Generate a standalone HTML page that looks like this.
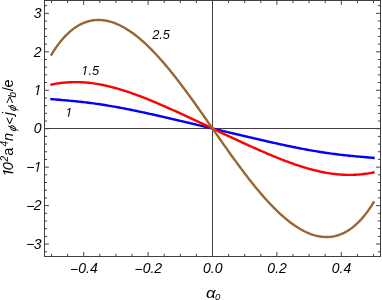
<!DOCTYPE html>
<html><head><meta charset="utf-8"><style>
html,body{margin:0;padding:0;background:#fff;}
svg{display:block;will-change:transform}
text{font-family:"Liberation Sans",sans-serif;font-size:14px;font-style:italic;fill:#000}
.cl{font-size:12.8px}
</style></head><body>
<svg width="382" height="300" viewBox="0 0 382 300">
<rect width="382" height="300" fill="#fff"/>
<line x1="44.5" y1="128.5" x2="380.5" y2="128.5" stroke="#404040" stroke-width="1"/>
<line x1="212.5" y1="0.5" x2="212.5" y2="256.5" stroke="#404040" stroke-width="1"/>
<path d="M51.50,99.13 L53.11,99.27 L54.72,99.41 L56.33,99.55 L57.94,99.69 L59.55,99.82 L61.16,99.96 L62.77,100.10 L64.38,100.24 L65.99,100.38 L67.60,100.53 L69.21,100.67 L70.82,100.82 L72.43,100.98 L74.04,101.13 L75.65,101.29 L77.26,101.46 L78.87,101.63 L80.48,101.80 L82.09,101.98 L83.70,102.17 L85.31,102.36 L86.92,102.55 L88.53,102.75 L90.14,102.95 L91.75,103.16 L93.36,103.38 L94.97,103.60 L96.58,103.83 L98.19,104.06 L99.80,104.29 L101.41,104.54 L103.02,104.78 L104.63,105.04 L106.24,105.29 L107.85,105.56 L109.46,105.82 L111.07,106.10 L112.68,106.37 L114.29,106.66 L115.90,106.94 L117.51,107.24 L119.12,107.53 L120.73,107.83 L122.34,108.14 L123.95,108.44 L125.56,108.76 L127.17,109.07 L128.78,109.39 L130.39,109.72 L132.00,110.04 L133.61,110.37 L135.22,110.71 L136.83,111.04 L138.44,111.38 L140.05,111.72 L141.66,112.07 L143.27,112.41 L144.88,112.76 L146.49,113.12 L148.10,113.47 L149.71,113.83 L151.32,114.18 L152.93,114.54 L154.54,114.91 L156.15,115.27 L157.76,115.63 L159.37,116.00 L160.98,116.37 L162.59,116.74 L164.20,117.11 L165.81,117.48 L167.42,117.85 L169.03,118.23 L170.64,118.60 L172.25,118.98 L173.86,119.35 L175.47,119.73 L177.08,120.11 L178.69,120.48 L180.30,120.86 L181.91,121.24 L183.52,121.62 L185.13,122.00 L186.74,122.38 L188.35,122.76 L189.96,123.14 L191.57,123.53 L193.18,123.91 L194.79,124.29 L196.40,124.67 L198.01,125.05 L199.62,125.44 L201.23,125.82 L202.84,126.20 L204.45,126.59 L206.06,126.97 L207.67,127.35 L209.28,127.73 L210.89,128.12 L212.50,128.50 L214.11,128.88 L215.72,129.27 L217.33,129.65 L218.94,130.03 L220.55,130.41 L222.16,130.80 L223.77,131.18 L225.38,131.56 L226.99,131.95 L228.60,132.33 L230.21,132.71 L231.82,133.09 L233.43,133.47 L235.04,133.86 L236.65,134.24 L238.26,134.62 L239.87,135.00 L241.48,135.38 L243.09,135.76 L244.70,136.14 L246.31,136.52 L247.92,136.89 L249.53,137.27 L251.14,137.65 L252.75,138.02 L254.36,138.40 L255.97,138.77 L257.58,139.15 L259.19,139.52 L260.80,139.89 L262.41,140.26 L264.02,140.63 L265.63,141.00 L267.24,141.37 L268.85,141.73 L270.46,142.09 L272.07,142.46 L273.68,142.82 L275.29,143.17 L276.90,143.53 L278.51,143.88 L280.12,144.24 L281.73,144.59 L283.34,144.93 L284.95,145.28 L286.56,145.62 L288.17,145.96 L289.78,146.29 L291.39,146.63 L293.00,146.96 L294.61,147.28 L296.22,147.61 L297.83,147.93 L299.44,148.24 L301.05,148.56 L302.66,148.86 L304.27,149.17 L305.88,149.47 L307.49,149.76 L309.10,150.06 L310.71,150.34 L312.32,150.63 L313.93,150.90 L315.54,151.18 L317.15,151.44 L318.76,151.71 L320.37,151.96 L321.98,152.22 L323.59,152.46 L325.20,152.71 L326.81,152.94 L328.42,153.17 L330.03,153.40 L331.64,153.62 L333.25,153.84 L334.86,154.05 L336.47,154.25 L338.08,154.45 L339.69,154.64 L341.30,154.83 L342.91,155.02 L344.52,155.20 L346.13,155.37 L347.74,155.54 L349.35,155.71 L350.96,155.87 L352.57,156.02 L354.18,156.18 L355.79,156.33 L357.40,156.47 L359.01,156.62 L360.62,156.76 L362.23,156.90 L363.84,157.04 L365.45,157.18 L367.06,157.31 L368.67,157.45 L370.28,157.59 L371.89,157.73 L373.50,157.87" fill="none" stroke="#0000ff" stroke-width="2.4" stroke-linejoin="round" stroke-linecap="square"/>
<path d="M51.50,84.56 L53.11,84.24 L54.72,83.94 L56.33,83.67 L57.94,83.42 L59.55,83.19 L61.16,82.98 L62.77,82.79 L64.38,82.63 L65.99,82.49 L67.60,82.37 L69.21,82.27 L70.82,82.19 L72.43,82.14 L74.04,82.11 L75.65,82.10 L77.26,82.12 L78.87,82.15 L80.48,82.20 L82.09,82.28 L83.70,82.38 L85.31,82.49 L86.92,82.63 L88.53,82.79 L90.14,82.97 L91.75,83.16 L93.36,83.38 L94.97,83.61 L96.58,83.86 L98.19,84.13 L99.80,84.42 L101.41,84.72 L103.02,85.04 L104.63,85.38 L106.24,85.74 L107.85,86.11 L109.46,86.49 L111.07,86.89 L112.68,87.30 L114.29,87.73 L115.90,88.18 L117.51,88.63 L119.12,89.10 L120.73,89.58 L122.34,90.08 L123.95,90.58 L125.56,91.10 L127.17,91.63 L128.78,92.17 L130.39,92.72 L132.00,93.28 L133.61,93.85 L135.22,94.44 L136.83,95.03 L138.44,95.62 L140.05,96.23 L141.66,96.85 L143.27,97.47 L144.88,98.10 L146.49,98.74 L148.10,99.39 L149.71,100.04 L151.32,100.70 L152.93,101.37 L154.54,102.04 L156.15,102.72 L157.76,103.40 L159.37,104.09 L160.98,104.78 L162.59,105.48 L164.20,106.18 L165.81,106.89 L167.42,107.60 L169.03,108.31 L170.64,109.03 L172.25,109.75 L173.86,110.48 L175.47,111.21 L177.08,111.94 L178.69,112.68 L180.30,113.41 L181.91,114.15 L183.52,114.90 L185.13,115.64 L186.74,116.39 L188.35,117.13 L189.96,117.88 L191.57,118.64 L193.18,119.39 L194.79,120.14 L196.40,120.90 L198.01,121.66 L199.62,122.41 L201.23,123.17 L202.84,123.93 L204.45,124.69 L206.06,125.45 L207.67,126.21 L209.28,126.98 L210.89,127.74 L212.50,128.50 L214.11,129.26 L215.72,130.02 L217.33,130.79 L218.94,131.55 L220.55,132.31 L222.16,133.07 L223.77,133.83 L225.38,134.59 L226.99,135.34 L228.60,136.10 L230.21,136.86 L231.82,137.61 L233.43,138.36 L235.04,139.12 L236.65,139.87 L238.26,140.61 L239.87,141.36 L241.48,142.10 L243.09,142.85 L244.70,143.59 L246.31,144.32 L247.92,145.06 L249.53,145.79 L251.14,146.52 L252.75,147.25 L254.36,147.97 L255.97,148.69 L257.58,149.40 L259.19,150.11 L260.80,150.82 L262.41,151.52 L264.02,152.22 L265.63,152.91 L267.24,153.60 L268.85,154.28 L270.46,154.96 L272.07,155.63 L273.68,156.30 L275.29,156.96 L276.90,157.61 L278.51,158.26 L280.12,158.90 L281.73,159.53 L283.34,160.15 L284.95,160.77 L286.56,161.38 L288.17,161.97 L289.78,162.56 L291.39,163.15 L293.00,163.72 L294.61,164.28 L296.22,164.83 L297.83,165.37 L299.44,165.90 L301.05,166.42 L302.66,166.92 L304.27,167.42 L305.88,167.90 L307.49,168.37 L309.10,168.82 L310.71,169.27 L312.32,169.70 L313.93,170.11 L315.54,170.51 L317.15,170.89 L318.76,171.26 L320.37,171.62 L321.98,171.96 L323.59,172.28 L325.20,172.58 L326.81,172.87 L328.42,173.14 L330.03,173.39 L331.64,173.62 L333.25,173.84 L334.86,174.03 L336.47,174.21 L338.08,174.37 L339.69,174.51 L341.30,174.62 L342.91,174.72 L344.52,174.80 L346.13,174.85 L347.74,174.88 L349.35,174.90 L350.96,174.89 L352.57,174.86 L354.18,174.81 L355.79,174.73 L357.40,174.63 L359.01,174.51 L360.62,174.37 L362.23,174.21 L363.84,174.02 L365.45,173.81 L367.06,173.58 L368.67,173.33 L370.28,173.06 L371.89,172.76 L373.50,172.44" fill="none" stroke="#ff0000" stroke-width="2.4" stroke-linejoin="round" stroke-linecap="square"/>
<path d="M51.50,54.54 L53.11,51.95 L54.72,49.48 L56.33,47.13 L57.94,44.89 L59.55,42.77 L61.16,40.76 L62.77,38.86 L64.38,37.06 L65.99,35.37 L67.60,33.78 L69.21,32.28 L70.82,30.88 L72.43,29.58 L74.04,28.37 L75.65,27.25 L77.26,26.21 L78.87,25.26 L80.48,24.40 L82.09,23.62 L83.70,22.91 L85.31,22.29 L86.92,21.75 L88.53,21.28 L90.14,20.88 L91.75,20.56 L93.36,20.31 L94.97,20.13 L96.58,20.01 L98.19,19.97 L99.80,19.99 L101.41,20.08 L103.02,20.23 L104.63,20.44 L106.24,20.72 L107.85,21.05 L109.46,21.45 L111.07,21.90 L112.68,22.41 L114.29,22.98 L115.90,23.60 L117.51,24.28 L119.12,25.01 L120.73,25.79 L122.34,26.62 L123.95,27.51 L125.56,28.44 L127.17,29.42 L128.78,30.46 L130.39,31.53 L132.00,32.66 L133.61,33.83 L135.22,35.04 L136.83,36.30 L138.44,37.60 L140.05,38.94 L141.66,40.32 L143.27,41.75 L144.88,43.21 L146.49,44.71 L148.10,46.25 L149.71,47.82 L151.32,49.43 L152.93,51.08 L154.54,52.76 L156.15,54.47 L157.76,56.22 L159.37,58.00 L160.98,59.80 L162.59,61.64 L164.20,63.51 L165.81,65.40 L167.42,67.33 L169.03,69.28 L170.64,71.25 L172.25,73.25 L173.86,75.27 L175.47,77.32 L177.08,79.38 L178.69,81.47 L180.30,83.58 L181.91,85.71 L183.52,87.85 L185.13,90.02 L186.74,92.19 L188.35,94.39 L189.96,96.60 L191.57,98.82 L193.18,101.05 L194.79,103.30 L196.40,105.56 L198.01,107.82 L199.62,110.10 L201.23,112.38 L202.84,114.67 L204.45,116.97 L206.06,119.27 L207.67,121.57 L209.28,123.88 L210.89,126.19 L212.50,128.50 L214.11,130.81 L215.72,133.12 L217.33,135.43 L218.94,137.73 L220.55,140.03 L222.16,142.33 L223.77,144.62 L225.38,146.90 L226.99,149.18 L228.60,151.44 L230.21,153.70 L231.82,155.95 L233.43,158.18 L235.04,160.40 L236.65,162.61 L238.26,164.81 L239.87,166.98 L241.48,169.15 L243.09,171.29 L244.70,173.42 L246.31,175.53 L247.92,177.62 L249.53,179.68 L251.14,181.73 L252.75,183.75 L254.36,185.75 L255.97,187.72 L257.58,189.67 L259.19,191.60 L260.80,193.49 L262.41,195.36 L264.02,197.20 L265.63,199.00 L267.24,200.78 L268.85,202.53 L270.46,204.24 L272.07,205.92 L273.68,207.57 L275.29,209.18 L276.90,210.75 L278.51,212.29 L280.12,213.79 L281.73,215.25 L283.34,216.68 L284.95,218.06 L286.56,219.40 L288.17,220.70 L289.78,221.96 L291.39,223.17 L293.00,224.34 L294.61,225.47 L296.22,226.54 L297.83,227.58 L299.44,228.56 L301.05,229.49 L302.66,230.38 L304.27,231.21 L305.88,231.99 L307.49,232.72 L309.10,233.40 L310.71,234.02 L312.32,234.59 L313.93,235.10 L315.54,235.55 L317.15,235.95 L318.76,236.28 L320.37,236.56 L321.98,236.77 L323.59,236.92 L325.20,237.01 L326.81,237.03 L328.42,236.99 L330.03,236.87 L331.64,236.69 L333.25,236.44 L334.86,236.12 L336.47,235.72 L338.08,235.25 L339.69,234.71 L341.30,234.09 L342.91,233.38 L344.52,232.60 L346.13,231.74 L347.74,230.79 L349.35,229.75 L350.96,228.63 L352.57,227.42 L354.18,226.12 L355.79,224.72 L357.40,223.22 L359.01,221.63 L360.62,219.94 L362.23,218.14 L363.84,216.24 L365.45,214.23 L367.06,212.11 L368.67,209.87 L370.28,207.52 L371.89,205.05 L373.50,202.46" fill="none" stroke="#996633" stroke-width="2.4" stroke-linejoin="round" stroke-linecap="square"/>
<rect x="44.5" y="0.5" width="336.0" height="256.0" fill="none" stroke="#404040" stroke-width="1"/>
<path d="M44.5,251.74h2.6M380.5,251.74h-2.6M44.5,244.05h4.4M380.5,244.05h-4.4M44.5,236.36h2.6M380.5,236.36h-2.6M44.5,228.67h2.6M380.5,228.67h-2.6M44.5,220.98h2.6M380.5,220.98h-2.6M44.5,213.29h2.6M380.5,213.29h-2.6M44.5,205.60h4.4M380.5,205.60h-4.4M44.5,197.91h2.6M380.5,197.91h-2.6M44.5,190.22h2.6M380.5,190.22h-2.6M44.5,182.53h2.6M380.5,182.53h-2.6M44.5,174.84h2.6M380.5,174.84h-2.6M44.5,167.15h4.4M380.5,167.15h-4.4M44.5,159.46h2.6M380.5,159.46h-2.6M44.5,151.77h2.6M380.5,151.77h-2.6M44.5,144.08h2.6M380.5,144.08h-2.6M44.5,136.39h2.6M380.5,136.39h-2.6M44.5,128.70h4.4M380.5,128.70h-4.4M44.5,121.01h2.6M380.5,121.01h-2.6M44.5,113.32h2.6M380.5,113.32h-2.6M44.5,105.63h2.6M380.5,105.63h-2.6M44.5,97.94h2.6M380.5,97.94h-2.6M44.5,90.25h4.4M380.5,90.25h-4.4M44.5,82.56h2.6M380.5,82.56h-2.6M44.5,74.87h2.6M380.5,74.87h-2.6M44.5,67.18h2.6M380.5,67.18h-2.6M44.5,59.49h2.6M380.5,59.49h-2.6M44.5,51.80h4.4M380.5,51.80h-4.4M44.5,44.11h2.6M380.5,44.11h-2.6M44.5,36.42h2.6M380.5,36.42h-2.6M44.5,28.73h2.6M380.5,28.73h-2.6M44.5,21.04h2.6M380.5,21.04h-2.6M44.5,13.35h4.4M380.5,13.35h-4.4M44.5,5.66h2.6M380.5,5.66h-2.6M51.50,256.5v-2.6M51.50,0.5v2.6M67.60,256.5v-2.6M67.60,0.5v2.6M83.70,256.5v-4.4M83.70,0.5v4.4M99.80,256.5v-2.6M99.80,0.5v2.6M115.90,256.5v-2.6M115.90,0.5v2.6M132.00,256.5v-2.6M132.00,0.5v2.6M148.10,256.5v-4.4M148.10,0.5v4.4M164.20,256.5v-2.6M164.20,0.5v2.6M180.30,256.5v-2.6M180.30,0.5v2.6M196.40,256.5v-2.6M196.40,0.5v2.6M212.50,256.5v-4.4M212.50,0.5v4.4M228.60,256.5v-2.6M228.60,0.5v2.6M244.70,256.5v-2.6M244.70,0.5v2.6M260.80,256.5v-2.6M260.80,0.5v2.6M276.90,256.5v-4.4M276.90,0.5v4.4M293.00,256.5v-2.6M293.00,0.5v2.6M309.10,256.5v-2.6M309.10,0.5v2.6M325.20,256.5v-2.6M325.20,0.5v2.6M341.30,256.5v-4.4M341.30,0.5v4.4M357.40,256.5v-2.6M357.40,0.5v2.6M373.50,256.5v-2.6M373.50,0.5v2.6" stroke="#404040" stroke-width="1" fill="none"/>
<text x="41.5" y="18.05" text-anchor="end">3</text>
<text x="41.5" y="56.50" text-anchor="end">2</text>
<text x="41.5" y="94.95" text-anchor="end">1</text>
<text x="41.5" y="133.40" text-anchor="end">0</text>
<text x="41.5" y="171.85" text-anchor="end"><tspan dy="0.5">−</tspan><tspan dx="-0.8" dy="-0.5">1</tspan></text>
<text x="41.5" y="210.30" text-anchor="end"><tspan dy="0.5">−</tspan><tspan dx="-0.8" dy="-0.5">2</tspan></text>
<text x="41.5" y="248.75" text-anchor="end"><tspan dy="0.5">−</tspan><tspan dx="-0.8" dy="-0.5">3</tspan></text>
<text x="83.90" y="273.3" text-anchor="middle"><tspan dy="0.5">−</tspan><tspan dy="-0.5">0.4</tspan></text>
<text x="148.30" y="273.3" text-anchor="middle"><tspan dy="0.5">−</tspan><tspan dy="-0.5">0.2</tspan></text>
<text x="212.70" y="273.3" text-anchor="middle">0.0</text>
<text x="277.10" y="273.3" text-anchor="middle">0.2</text>
<text x="341.50" y="273.3" text-anchor="middle">0.4</text>
<text class="cl" x="152.2" y="38.8">2.5</text>
<text class="cl" x="81.3" y="75.0">1.5</text>
<text class="cl" x="65.3" y="116.7">1</text>
<text transform="translate(206.0,297.8) scale(1.12,1)" style="font-size:15px">α</text>
<text x="215.1" y="299.6" style="font-size:9.6px">0</text>
<text transform="translate(13.3,175.5) rotate(-90)"><tspan x="-0.98" y="0" style="font-size:14.5px;">1</tspan><tspan x="5.22" y="0" style="font-size:14.5px;">0</tspan><tspan x="14.06" y="-5.3" style="font-size:10px;">2</tspan><tspan x="19.83" y="0" style="font-size:14.5px;font-style:normal;">a</tspan><tspan x="28.99" y="-5.3" style="font-size:10px;">4</tspan><tspan x="34.61" y="0" style="font-size:14.5px;">n</tspan><tspan x="51.00" y="0.4" style="font-size:12.5px;">&lt;</tspan><tspan x="60.32" y="0" style="font-size:14.5px;">j</tspan><tspan x="71.80" y="0.4" style="font-size:12.5px;">&gt;</tspan><tspan x="78.06" y="2.2" style="font-size:10px;">b</tspan><tspan x="84.30" y="0" style="font-size:14.5px;font-style:normal;">/</tspan><tspan x="88.13" y="0" style="font-size:14.5px;font-style:normal;">e</tspan></text>
<text transform="translate(13.0,128.25) rotate(-90) skewX(-14)" text-anchor="middle" style="font-size:11px" y="2.86">ϕ</text>
<text transform="translate(13.1,107.95) rotate(-90) skewX(-14)" text-anchor="middle" style="font-size:11px" y="2.86">ϕ</text>
<g transform="translate(33.714,94.950) scale(0.006836,-0.006836)"><path d="M-100,-200H1120V303H-100Z" fill="#fff"/><path d="M412.3,0H593.3L655.5,320H474.5Z" fill="#000"/></g>
<g transform="translate(33.714,171.850) scale(0.006836,-0.006836)"><path d="M-100,-200H1120V303H-100Z" fill="#fff"/><path d="M412.3,0H593.3L655.5,320H474.5Z" fill="#000"/></g>
<g transform="translate(81.300,75.000) scale(0.006250,-0.006250)"><path d="M-100,-200H1120V303H-100Z" fill="#fff"/><path d="M412.3,0H593.3L655.5,320H474.5Z" fill="#000"/></g>
<g transform="translate(65.300,116.700) scale(0.006250,-0.006250)"><path d="M-100,-200H1120V303H-100Z" fill="#fff"/><path d="M412.3,0H593.3L655.5,320H474.5Z" fill="#000"/></g>
<g transform="translate(13.3,175.5) rotate(-90) translate(-0.975,0.000) scale(0.007080,-0.007080)"><path d="M-100,-200H1120V303H-100Z" fill="#fff"/><path d="M412.3,0H593.3L655.5,320H474.5Z" fill="#000"/></g>
</svg>
</body></html>
